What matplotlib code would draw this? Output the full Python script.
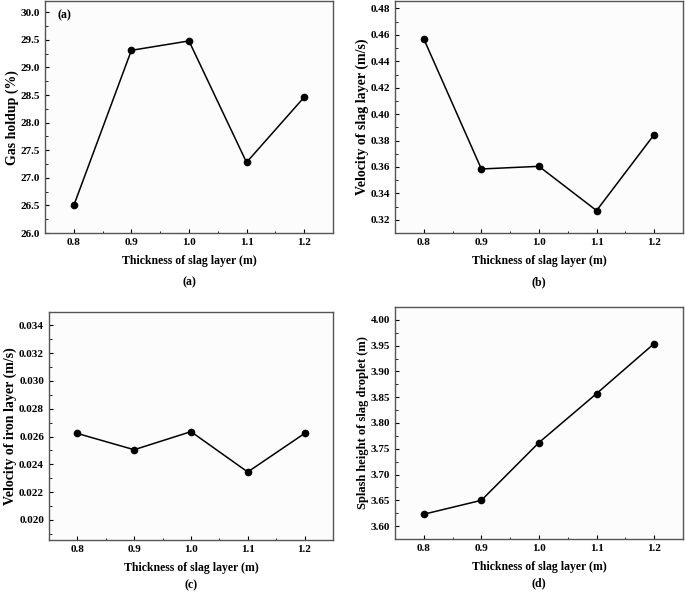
import numpy as np
import matplotlib.pyplot as plt
from matplotlib.ticker import MultipleLocator, FormatStrFormatter

plt.rcParams['font.family'] = 'Liberation Serif'
plt.rcParams['font.weight'] = 'bold'
plt.rcParams['font.size'] = 8

thick = [0.8, 0.9, 1.0, 1.1, 1.2]
gas_holdup = [26.50, 29.31, 29.48, 27.28, 28.46]
v_slag = [0.457, 0.3585, 0.3605, 0.327, 0.3845]
v_iron = [0.02622, 0.02505, 0.02635, 0.02345, 0.02622]
splash = [3.623, 3.650, 3.762, 3.857, 3.954]

fig = plt.figure(figsize=(6.85, 5.93), dpi=100)

panels = [
    # rect, data, ylabel, ylabel size, ylim, major, minor, fmt, caption, caption offset (px)
    ([0.0657, 0.607, 0.4203, 0.391], gas_holdup, 'Gas holdup (%)', 10, (26.0, 30.2), 0.5, 0.25, '%.1f', '(a)', 49),
    ([0.5766, 0.607, 0.4204, 0.391], v_slag, 'Velocity of slag layer (m/s)', 10, (0.31, 0.4855), 0.02, 0.01, '%.2f', '(b)', 49),
    ([0.0715, 0.0894, 0.4145, 0.3846], v_iron, 'Velocity of iron layer (m/s)', 10, (0.01856, 0.03496), 0.002, 0.001, '%.3f', '(c)', 45),
    ([0.5766, 0.0911, 0.4204, 0.3912], splash, 'Splash height of slag droplet (m)', 9, (3.575, 4.025), 0.05, 0.025, '%.2f', '(d)', 44),
]

for rect, vals, ylab, ysz, ylim, maj, mnr, fmt, cap, off in panels:
    ax = fig.add_axes(rect)
    ax.set_facecolor('#fcfcfc')
    ax.plot(thick, vals, '-o', color='black', lw=1.1, ms=4.5)
    ax.set_xlim(0.75, 1.25)
    ax.set_ylim(*ylim)
    ax.set_xticks(thick)
    ax.xaxis.set_major_formatter(FormatStrFormatter('%.1f'))
    ax.xaxis.set_minor_locator(MultipleLocator(0.05))
    ax.yaxis.set_major_locator(MultipleLocator(maj))
    ax.yaxis.set_minor_locator(MultipleLocator(mnr))
    ax.yaxis.set_major_formatter(FormatStrFormatter(fmt))
    ax.tick_params(which='both', direction='in', top=False, right=False)
    ax.tick_params(which='major', length=3, width=0.8, pad=3.5)
    ax.tick_params(which='minor', length=1.8, width=0.6)
    for s in ax.spines.values():
        s.set_color('#555555')
        s.set_linewidth(1.0)
    ax.set_xlabel('Thickness of slag layer (m)', fontsize=8.5, fontweight='bold', labelpad=6)
    ax.set_ylabel(ylab, fontsize=ysz, fontweight='bold', labelpad=1.5)
    ax.annotate(cap, xy=(0.5, 0), xycoords='axes fraction', xytext=(0, -off),
                textcoords='offset pixels', ha='center', va='center',
                fontsize=8.5, fontweight='bold')
    if cap == '(a)':
        ax.text(0.066, 0.94, '(a)', transform=ax.transAxes, ha='center', va='center',
                fontsize=8.5, fontweight='bold')

fig.savefig('out.png', dpi=100)
